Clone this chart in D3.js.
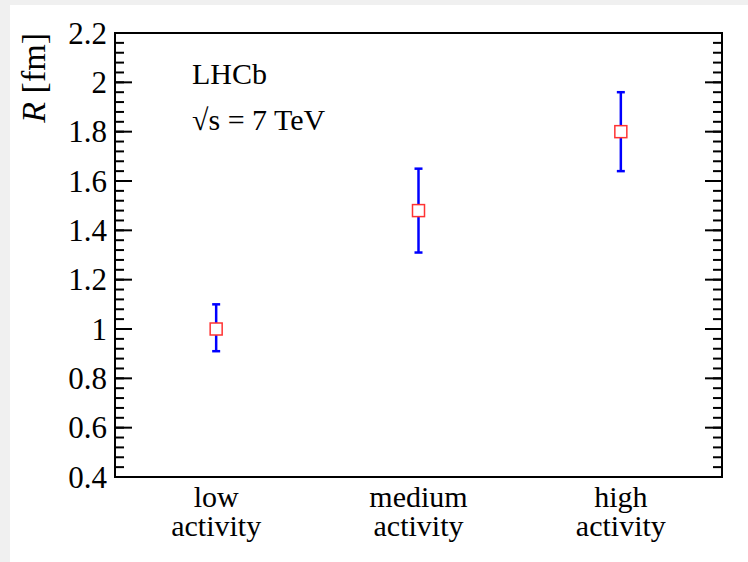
<!DOCTYPE html>
<html>
<head>
<meta charset="utf-8">
<script src="https://cdnjs.cloudflare.com/ajax/libs/d3/7.8.5/d3.min.js"></script>
<style>
  html, body { margin: 0; padding: 0; background: #f0f0f0; }
  svg { display: block; }
</style>
</head>
<body>
<svg id="chart" width="748" height="562"></svg>
<script>
// ---------- data ----------
const categories = ["low activity", "medium activity", "high activity"];
const categoryLines = [["low", "activity"], ["medium", "activity"], ["high", "activity"]];
const radius = [1.00, 1.48, 1.80];
const errLow = [0.91, 1.31, 1.64];
const errHigh = [1.10, 1.65, 1.96];
const yTicks = [0.4, 0.6, 0.8, 1, 1.2, 1.4, 1.6, 1.8, 2, 2.2];

const FONT = "'Liberation Serif', 'Times New Roman', Times, 'DejaVu Serif', serif";

// ---------- layout ----------
const svg = d3.select("#chart")
  .attr("font-family", FONT)
  .style("font-family", FONT);
const frame = { left: 115, top: 33, right: 722, bottom: 477 };

// white canvas inside the grey window border
svg.append("rect")
  .attr("x", 10).attr("y", 5)
  .attr("width", 738).attr("height", 557)
  .attr("fill", "#fff");

const x = d3.scalePoint()
  .domain(categories)
  .range([frame.left, frame.right])
  .padding(0.5);

const y = d3.scaleLinear()
  .domain([0.4, 2.2])
  .range([frame.bottom, frame.top]);

// minor ticks every 0.04
const minorTicks = d3.range(0, 46).map(i => +(0.4 + i * 0.04).toFixed(2));

// left axis
const left = svg.append("g").attr("transform", `translate(${frame.left},0)`);
left.selectAll("line.minor")
  .data(minorTicks)
  .join("line")
  .attr("x1", 0).attr("x2", 9)
  .attr("y1", d => y(d)).attr("y2", d => y(d))
  .attr("stroke", "#000").attr("stroke-width", 2);
left.selectAll("line.major")
  .data(yTicks)
  .join("line")
  .attr("class", "major")
  .attr("x1", 0).attr("x2", 17)
  .attr("y1", d => y(d)).attr("y2", d => y(d))
  .attr("stroke", "#000").attr("stroke-width", 2);
left.selectAll("text")
  .data(yTicks)
  .join("text")
  .attr("x", -8)
  .attr("y", d => y(d))
  .attr("dy", "0.34em")
  .attr("text-anchor", "end")
  .attr("font-size", 31)
  .style("font-family", FONT)
  .text(d => d3.format("~g")(d));

// right axis (mirrored ticks, no labels)
const right = svg.append("g").attr("transform", `translate(${frame.right},0)`);
right.selectAll("line.minor")
  .data(minorTicks)
  .join("line")
  .attr("x1", 0).attr("x2", -9)
  .attr("y1", d => y(d)).attr("y2", d => y(d))
  .attr("stroke", "#000").attr("stroke-width", 2);
right.selectAll("line.major")
  .data(yTicks)
  .join("line")
  .attr("class", "major")
  .attr("x1", 0).attr("x2", -17)
  .attr("y1", d => y(d)).attr("y2", d => y(d))
  .attr("stroke", "#000").attr("stroke-width", 2);

// frame
svg.append("rect")
  .attr("x", frame.left).attr("y", frame.top)
  .attr("width", frame.right - frame.left)
  .attr("height", frame.bottom - frame.top)
  .attr("fill", "none")
  .attr("stroke", "#000")
  .attr("stroke-width", 2);

// x category labels, two lines each
categories.forEach((c, i) => {
  categoryLines[i].forEach((line, j) => {
    svg.append("text")
      .attr("x", x(c))
      .attr("y", 507 + j * 29)
      .attr("text-anchor", "middle")
      .attr("font-size", 30)
      .style("font-family", FONT)
      .text(line);
  });
});

// y axis title
const yt = svg.append("text")
  .attr("transform", `translate(45,${frame.top}) rotate(-90)`)
  .attr("text-anchor", "end")
  .attr("font-size", 34)
  .style("font-family", FONT);
yt.append("tspan").attr("font-style", "italic").text("R");
yt.append("tspan").text(" [fm]");

// labels inside the frame
svg.append("text")
  .attr("x", 192).attr("y", 84)
  .attr("font-size", 30)
  .style("font-family", FONT)
  .text("LHCb");
svg.append("text")
  .attr("x", 192).attr("y", 130)
  .attr("font-size", 30)
  .style("font-family", FONT)
  .text("\u221As = 7 TeV");

// error bars
const pts = categories.map((c, i) => ({ c, v: radius[i], lo: errLow[i], hi: errHigh[i] }));
const eb = svg.append("g").attr("stroke", "#0000ff").attr("stroke-width", 2.5);
eb.selectAll("line.bar")
  .data(pts)
  .join("line")
  .attr("x1", d => x(d.c)).attr("x2", d => x(d.c))
  .attr("y1", d => y(d.lo)).attr("y2", d => y(d.hi));
eb.selectAll("line.capHi")
  .data(pts)
  .join("line")
  .attr("class", "capHi")
  .attr("x1", d => x(d.c) - 4).attr("x2", d => x(d.c) + 4)
  .attr("y1", d => y(d.hi)).attr("y2", d => y(d.hi));
eb.selectAll("line.capLo")
  .data(pts)
  .join("line")
  .attr("class", "capLo")
  .attr("x1", d => x(d.c) - 4).attr("x2", d => x(d.c) + 4)
  .attr("y1", d => y(d.lo)).attr("y2", d => y(d.lo));

// open square markers
svg.append("g")
  .selectAll("rect")
  .data(pts)
  .join("rect")
  .attr("x", d => x(d.c) - 6)
  .attr("y", d => y(d.v) - 6)
  .attr("width", 12).attr("height", 12)
  .attr("fill", "#fff")
  .attr("stroke", "#ff3333")
  .attr("stroke-width", 1.5);
</script>
</body>
</html>
